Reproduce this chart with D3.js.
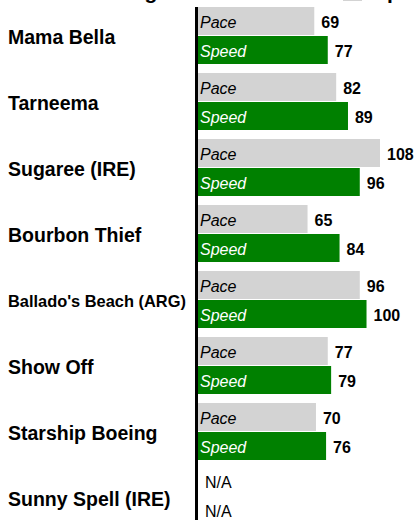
<!DOCTYPE html>
<html>
<head>
<meta charset="utf-8">
<script src="https://cdn.jsdelivr.net/npm/d3@7"></script>
<style>
  html, body { margin: 0; padding: 0; background: #fff; }
  svg { display: block; font-family: "Liberation Sans", Arial, sans-serif; }
</style>
</head>
<body>
<svg id="chart" width="417" height="520"></svg>
<script>
// Horses and their ratings (null = no rating available)
const horses = ["Mama Bella", "Tarneema", "Sugaree (IRE)", "Bourbon Thief",
                "Ballado's Beach (ARG)", "Show Off", "Starship Boeing", "Sunny Spell (IRE)"];
const paceRatings  = [69, 82, 108, 65, 96, 77, 70, null];
const speedRatings = [77, 89, 96, 84, 100, 79, 76, null];
const seriesNames  = ["Pace", "Speed"];
const seriesColors = ["#d3d3d3", "#008000"];
const seriesText   = ["#000000", "#ffffff"];

const rows = horses.map((h, i) => ({
  horse: h,
  values: [paceRatings[i], speedRatings[i]]
}));

const svg = d3.select("#chart");

const axisX = 198;
const x = d3.scaleLinear().domain([0, 108]).range([axisX, 380]);

const y = d3.scaleBand()
  .domain(horses)
  .range([7, 526])
  .paddingInner(9 / 66)
  .paddingOuter(0);

const ySub = d3.scaleBand()
  .domain(seriesNames)
  .range([0, y.bandwidth()])
  .paddingInner(0.0345);

// Header (title and legend sit just above the top edge)
svg.append("text")
  .attr("x", 92).attr("y", -0.8)
  .attr("font-size", 21).attr("font-weight", "bold")
  .text("Ratings");
svg.append("rect")
  .attr("x", 343).attr("y", -13).attr("width", 19).attr("height", 14)
  .attr("fill", seriesColors[0]);
svg.append("text")
  .attr("x", 373).attr("y", -0.8)
  .attr("font-size", 21).attr("font-weight", "bold")
  .text("Speed");

const groups = svg.selectAll("g.horse")
  .data(rows)
  .join("g")
  .attr("class", "horse")
  .attr("transform", d => `translate(0,${y(d.horse)})`);

// Horse names, shrunk to fit when too long
groups.append("text")
  .attr("x", 8)
  .attr("font-weight", "bold")
  .attr("font-size", 19.5)
  .attr("fill", "#000")
  .text(d => d.horse)
  .each(function () {
    const maxW = 178;
    const w = this.getComputedTextLength();
    let fs = 19.5;
    if (w > maxW) {
      fs = 19.5 * maxW / w;
      d3.select(this).attr("font-size", fs);
    }
    d3.select(this).attr("y", y.bandwidth() / 2 + 0.36 * fs + 1.5);
  });

const bars = groups.selectAll("g.bar")
  .data(d => d.values.map((v, j) => ({ v, j, name: seriesNames[j] })))
  .join("g")
  .attr("class", "bar")
  .attr("transform", d => `translate(0,${ySub(d.name)})`);

bars.filter(d => d.v != null).append("rect")
  .attr("x", axisX)
  .attr("y", 0)
  .attr("width", d => x(d.v) - axisX)
  .attr("height", ySub.bandwidth())
  .attr("fill", d => seriesColors[d.j]);

bars.filter(d => d.v != null).append("text")
  .attr("x", axisX + 2)
  .attr("y", ySub.bandwidth() / 2 + 7)
  .attr("font-size", 16)
  .attr("font-style", "italic")
  .attr("fill", d => seriesText[d.j])
  .text(d => d.name);

bars.append("text")
  .attr("x", d => x(d.v == null ? 0 : d.v) + 7)
  .attr("y", d => ySub.bandwidth() / 2 + (d.v == null ? 5.5 : 7))
  .attr("font-size", 16)
  .attr("font-weight", d => d.v == null ? "normal" : "bold")
  .attr("fill", "#000")
  .text(d => d.v == null ? "N/A" : d.v);

// Baseline axis
svg.append("line")
  .attr("x1", axisX - 1.5).attr("x2", axisX - 1.5)
  .attr("y1", 7).attr("y2", 526)
  .attr("stroke", "#000")
  .attr("stroke-width", 3);
</script>
</body>
</html>
